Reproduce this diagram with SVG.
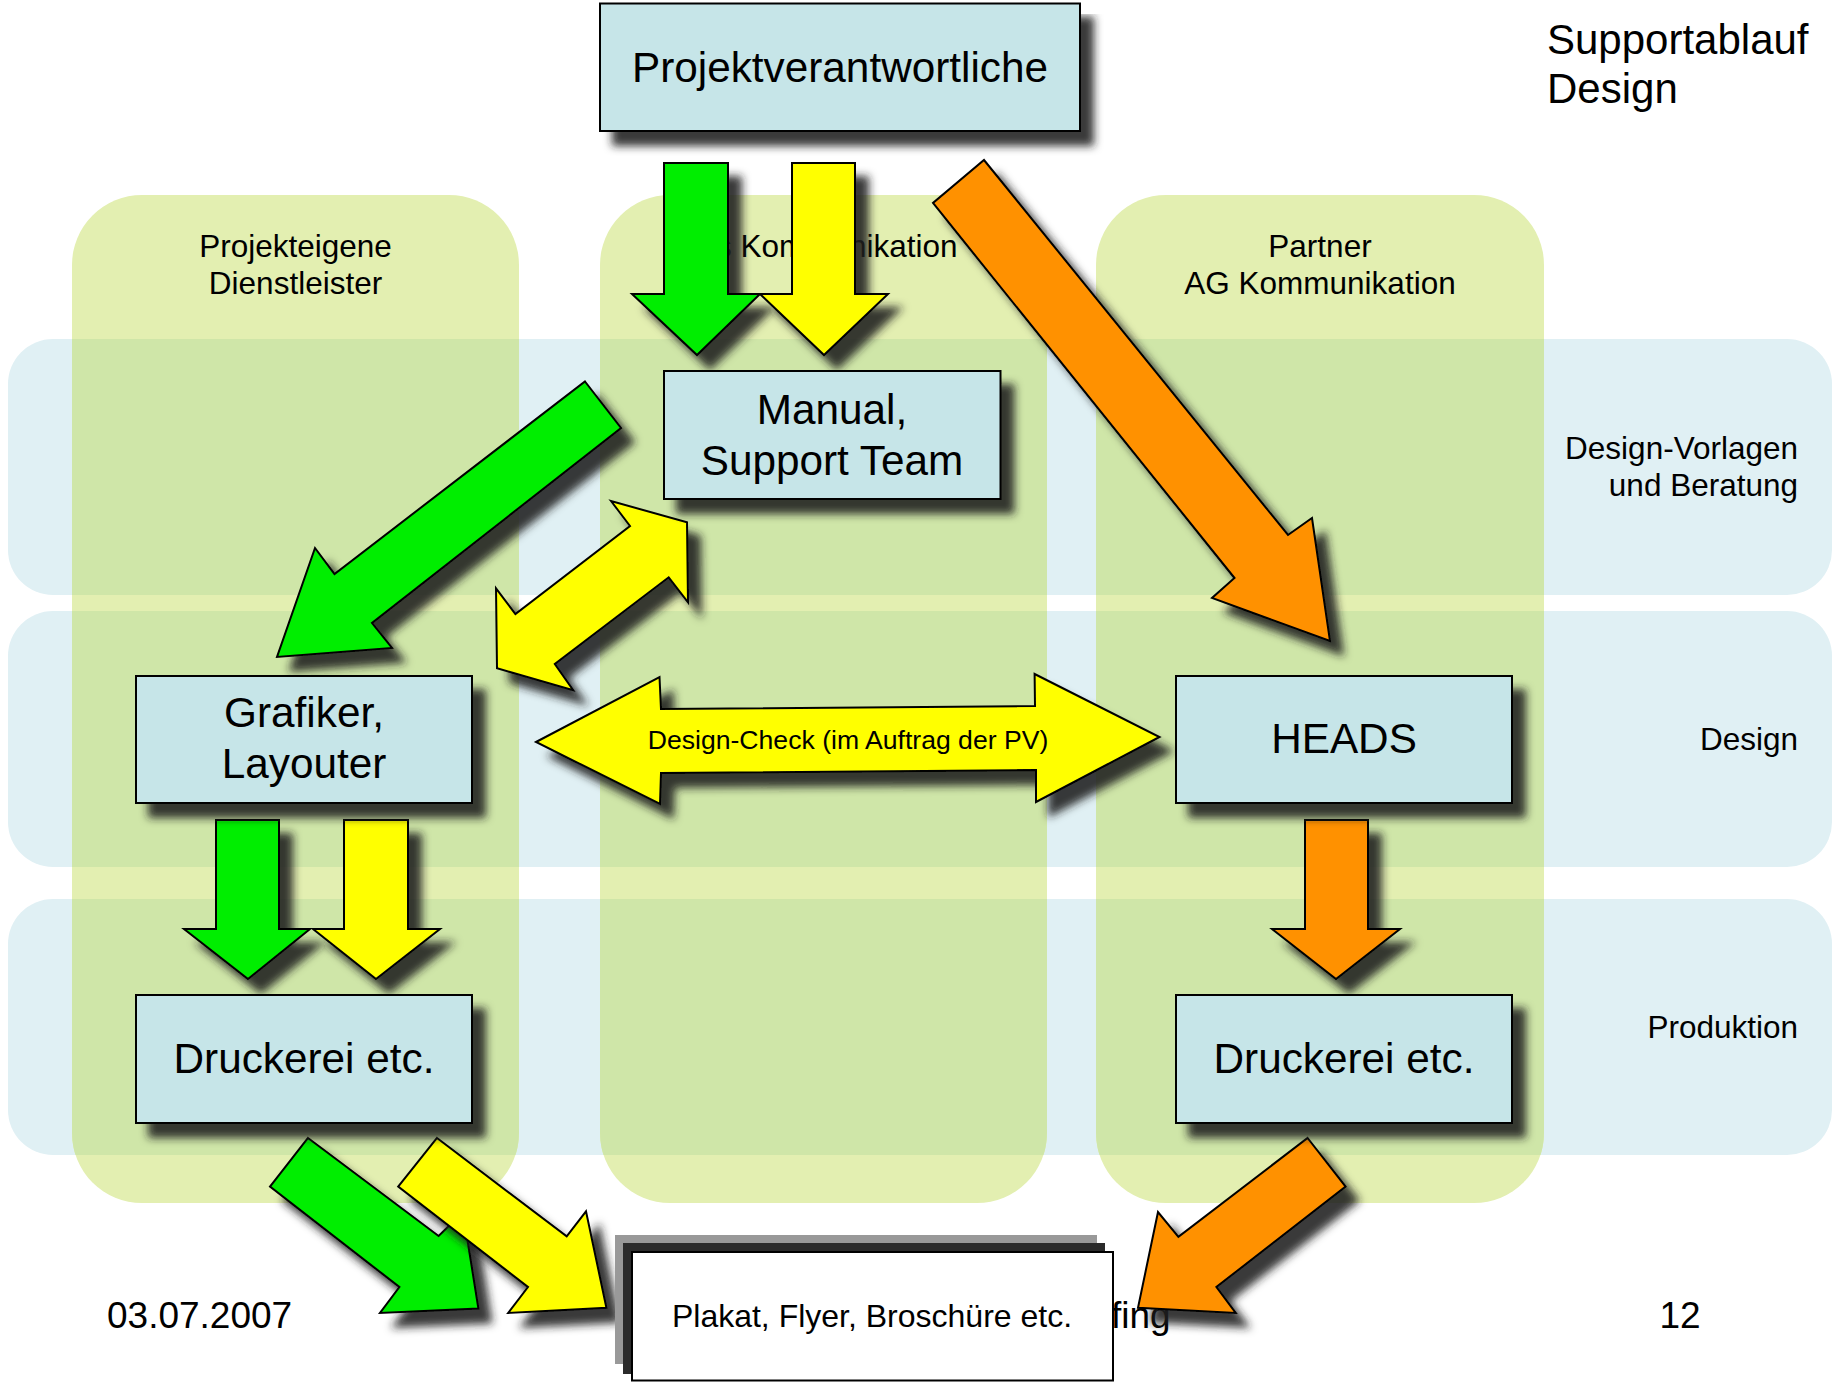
<svg xmlns="http://www.w3.org/2000/svg" width="1834" height="1382" viewBox="0 0 1834 1382">
<style>
text{font-family:"Liberation Sans",Arial,Helvetica,sans-serif;fill:#000}
.row{fill:#e0f0f4}
.col{fill:#e3efb1}
.ov{fill:#cfe6a8}
.lane{font-size:31.5px}
.box{fill:#c6e5e8;stroke:#000;stroke-width:2}
.bt{font-size:42.3px;text-anchor:middle}
.ar{stroke:#000;stroke-width:2;stroke-linejoin:miter}
.g{fill:#00ee00}
.y{fill:#ffff00}
.o{fill:#ff9100}
.foot{font-size:37px}
</style>
<defs>
<filter id="sh" filterUnits="userSpaceOnUse" x="0" y="0" width="1834" height="1382">
<feGaussianBlur in="SourceAlpha" stdDeviation="4"/>
<feOffset dx="13" dy="14" result="b"/>
<feFlood flood-color="#1f1f1f" flood-opacity="0.88"/>
<feComposite in2="b" operator="in"/>
<feMerge><feMergeNode/><feMergeNode in="SourceGraphic"/></feMerge>
</filter>
<clipPath id="rows">
<rect x="8" y="339" width="1824" height="256" rx="45"/>
<rect x="8" y="611" width="1824" height="256" rx="45"/>
<rect x="8" y="899" width="1824" height="256" rx="45"/>
</clipPath>
<rect id="c1" x="72" y="195" width="447" height="1008" rx="70"/>
<rect id="c2" x="600" y="195" width="447" height="1008" rx="70"/>
<rect id="c3" x="1096" y="195" width="448" height="1008" rx="70"/>
</defs>
<rect x="0" y="0" width="1834" height="1382" fill="#fff"/>
<g id="lanes">
<rect class="row" x="8" y="339" width="1824" height="256" rx="45"/>
<rect class="row" x="8" y="611" width="1824" height="256" rx="45"/>
<rect class="row" x="8" y="899" width="1824" height="256" rx="45"/>
<use href="#c1" class="col"/>
<use href="#c2" class="col"/>
<use href="#c3" class="col"/>
<g clip-path="url(#rows)">
<use href="#c1" class="ov"/>
<use href="#c2" class="ov"/>
<use href="#c3" class="ov"/>
</g>
<text class="lane" x="295.5" y="257" text-anchor="middle">Projekteigene</text>
<text class="lane" x="295.5" y="294" text-anchor="middle">Dienstleister</text>
<text class="lane" x="716" y="257">s Kommunikation</text>
<text class="lane" x="1320" y="257" text-anchor="middle">Partner</text>
<text class="lane" x="1320" y="294" text-anchor="middle">AG Kommunikation</text>
<text class="lane" x="1798" y="459" text-anchor="end">Design-Vorlagen</text>
<text class="lane" x="1798" y="496" text-anchor="end">und Beratung</text>
<text class="lane" x="1798" y="750" text-anchor="end">Design</text>
<text class="lane" x="1798" y="1038" text-anchor="end">Produktion</text>
</g>
<g id="title">
<text x="1547" y="54" font-size="42">Supportablauf</text>
<text x="1547" y="103" font-size="42">Design</text>
</g>
<g id="footer">
<text class="foot" x="107" y="1328">03.07.2007</text>
<text class="foot" x="1111" y="1328">fing</text>
<text class="foot" x="1680" y="1328" text-anchor="middle">12</text>
</g>
<g id="connectors">
<polygon class="ar g" filter="url(#sh)" points="664,163 728,163 728,294 760,294 697,355 632,294 664,294"/>
<polygon class="ar y" filter="url(#sh)" points="792,163 855,163 855,294 888,294 824,355 760,294 792,294"/>
<polygon class="ar o" filter="url(#sh)" points="984,160 1288,535 1312,518 1330,641 1212,598 1234.5,578 933,203"/>
<polygon class="ar g" filter="url(#sh)" points="585,381.5 621,428 372,623 392,648 277,657 315,548 334.5,574"/>
<polygon class="ar y" filter="url(#sh)" points="611,501 630,526 515.4,614 496,588.3 497,668.3 573.2,690.3 554.8,664 668.7,577.3 688,602.3 687,522.3"/>
<polygon class="ar y" filter="url(#sh)" points="536,742 659.5,677 661,709 1035,706 1034.6,674 1159.5,737 1036,802 1036,770 661,773 660,804"/>
<text x="848" y="749" font-size="26.6" text-anchor="middle">Design-Check (im Auftrag der PV)</text>
<polygon class="ar g" filter="url(#sh)" points="216,820 279,820 279,929 310,929 248,979 184,929 216,929"/>
<polygon class="ar y" filter="url(#sh)" points="344,820 408,820 408,929 440,929 376,979 313,929 344,929"/>
<polygon class="ar o" filter="url(#sh)" points="1305,820 1368,820 1368,929 1400,929 1336,979 1272,929 1305,929"/>
<polygon class="ar g" filter="url(#sh)" points="308,1138 438.6,1236 463,1212 478.4,1308.6 380,1313 399.4,1287 270,1186.6"/>
<polygon class="ar y" filter="url(#sh)" points="437,1138 566.7,1236.4 586,1211.3 606.4,1307.7 508.2,1313 528,1287 398.2,1186.6"/>
<polygon class="ar o" filter="url(#sh)" points="1307.6,1138 1345.6,1186.6 1216.4,1287 1235.7,1313 1138,1307.7 1158,1212 1178.4,1236.8"/>
</g>
<g id="node-pv">
<rect class="box" filter="url(#sh)" x="600" y="3.5" width="480" height="127.5"/>
<text class="bt" x="840" y="82">Projektverantwortliche</text>
</g>
<g id="node-manual">
<rect class="box" filter="url(#sh)" x="664" y="371" width="336.5" height="128"/>
<text class="bt" x="832" y="424">Manual,</text>
<text class="bt" x="832" y="475">Support Team</text>
</g>
<g id="node-grafiker">
<rect class="box" filter="url(#sh)" x="136" y="676" width="336" height="127"/>
<text class="bt" x="304" y="727">Grafiker,</text>
<text class="bt" x="304" y="778">Layouter</text>
</g>
<g id="node-heads">
<rect class="box" filter="url(#sh)" x="1176" y="676" width="336" height="127"/>
<text class="bt" x="1344" y="753">HEADS</text>
</g>
<g id="node-druck-left">
<rect class="box" filter="url(#sh)" x="136" y="995" width="336" height="128"/>
<text class="bt" x="304" y="1073">Druckerei etc.</text>
</g>
<g id="node-druck-right">
<rect class="box" filter="url(#sh)" x="1176" y="995" width="336" height="128"/>
<text class="bt" x="1344" y="1073">Druckerei etc.</text>
</g>
<g id="node-plakat">
<rect x="615" y="1235" width="482" height="129" fill="#999"/>
<rect x="623" y="1243" width="482" height="131" fill="#2b2b2b"/>
<rect x="632" y="1252" width="481" height="128.5" fill="#fff" stroke="#000" stroke-width="2"/>
<text x="872" y="1327" font-size="32" text-anchor="middle">Plakat, Flyer, Broschüre etc.</text>
</g>
</svg>
